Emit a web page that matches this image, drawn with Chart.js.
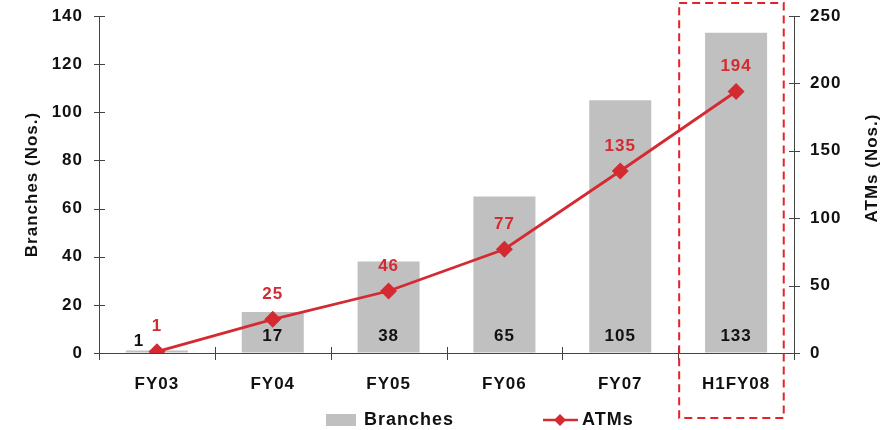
<!DOCTYPE html>
<html><head><meta charset="utf-8">
<script src="https://cdn.jsdelivr.net/npm/chart.js@4/dist/chart.umd.min.js"></script>
<style>html,body{margin:0;padding:0;background:#fff}#w{width:888px;height:430px}</style>
</head><body><div id="w"><canvas id="c"></canvas></div>
<script>
const categories = ['FY03','FY04','FY05','FY06','FY07','H1FY08'];
const branches = [1,17,38,65,105,133];
const atms = [1,25,46,77,135,194];
const branchTicks = [0,20,40,60,80,100,120,140];
const atmTicks = [0,50,100,150,200,250];

const FONT = '"Liberation Sans", Arial, sans-serif';
const RED = '#d42a31';
const GREY = '#c0c0c0';
const SP = '1px';

const overlay = {
  id: 'overlay',
  beforeLayout(chart) { chart.ctx.letterSpacing = SP; },
  beforeDraw(chart) { chart.ctx.letterSpacing = SP; },
  afterDatasetsDraw(chart) {
    const ctx = chart.ctx, xs = chart.scales.x, yl = chart.scales.y, yr = chart.scales.y2;
    ctx.save();
    ctx.letterSpacing = SP;
    // axis cross ticks
    ctx.strokeStyle = '#444'; ctx.lineWidth = 1;
    yl.ticks.forEach(t => { const p = Math.round(yl.getPixelForValue(t.value)) + 0.5;
      ctx.beginPath(); ctx.moveTo(yl.right - 5, p); ctx.lineTo(yl.right + 6, p); ctx.stroke(); });
    yr.ticks.forEach(t => { const p = Math.round(yr.getPixelForValue(t.value)) + 0.5;
      ctx.beginPath(); ctx.moveTo(yr.left - 5, p); ctx.lineTo(yr.left + 6, p); ctx.stroke(); });
    const cw = xs.width / categories.length;
    for (let i = 0; i <= categories.length; i++) {
      const px = Math.round(xs.left + i * cw) + 0.5;
      ctx.beginPath(); ctx.moveTo(px, xs.top - 6); ctx.lineTo(px, xs.top + 7); ctx.stroke();
    }
    // bar labels
    ctx.font = 'bold 17px ' + FONT; ctx.textAlign = 'center'; ctx.textBaseline = 'middle';
    ctx.fillStyle = '#111';
    const barMeta = chart.getDatasetMeta(0);
    barMeta.data.forEach((b, i) => {
      const v = branches[i];
      if (i === 0) ctx.fillText(String(v), b.x - 18, yl.getPixelForValue(0) - 12);
      else ctx.fillText(String(v), b.x, yl.getPixelForValue(0) - 17);
    });
    // line labels
    ctx.fillStyle = RED;
    const lineMeta = chart.getDatasetMeta(1);
    lineMeta.data.forEach((p, i) => ctx.fillText(String(atms[i]), p.x, p.y - 25));
    // right axis title (reads bottom-to-top)
    ctx.save();
    ctx.fillStyle = '#111';
    ctx.translate(872, 168); ctx.rotate(-Math.PI / 2);
    ctx.fillText('ATMs (Nos.)', 0, 0);
    ctx.restore();
    // highlight box
    const cx = xs.getPixelForValue(categories.length - 1);
    ctx.strokeStyle = '#e52228'; ctx.lineWidth = 2; ctx.setLineDash([8, 5]);
    ctx.strokeRect(cx - cw / 2 + 1, 3, cw * 0.92 - 2, 415);
    ctx.setLineDash([]);
    // legend
    ctx.fillStyle = GREY; ctx.fillRect(326, 414, 30, 12);
    ctx.fillStyle = '#111'; ctx.textAlign = 'left'; ctx.font = 'bold 18px ' + FONT;
    ctx.fillText(chart.data.datasets[0].label, 364, 420);
    ctx.strokeStyle = RED; ctx.lineWidth = 2.5;
    ctx.beginPath(); ctx.moveTo(543, 420); ctx.lineTo(578, 420); ctx.stroke();
    ctx.fillStyle = RED; ctx.beginPath();
    ctx.moveTo(560, 414); ctx.lineTo(566, 420); ctx.lineTo(560, 426); ctx.lineTo(554, 420); ctx.closePath(); ctx.fill();
    ctx.fillStyle = '#111'; ctx.fillText(chart.data.datasets[1].label, 582, 420);
    ctx.restore();
  }
};

new Chart(document.getElementById('c'), {
  data: {
    labels: categories,
    datasets: [
      { type: 'bar', label: 'Branches', data: branches, backgroundColor: GREY, yAxisID: 'y',
        barPercentage: 0.9, categoryPercentage: 0.595, order: 2 },
      { type: 'line', label: 'ATMs', data: atms, borderColor: RED, backgroundColor: RED, yAxisID: 'y2',
        borderWidth: 2.8, pointStyle: 'rectRot', pointRadius: 6.5, pointHoverRadius: 6.5, tension: 0, order: 1 }
    ]
  },
  plugins: [overlay],
  options: {
    responsive: true, maintainAspectRatio: false, animation: false,
    layout: { padding: { top: 16, left: 0, right: 0, bottom: 0 } },
    plugins: { legend: { display: false }, tooltip: { enabled: false } },
    scales: {
      x: {
        offset: true,
        grid: { offset: true, drawOnChartArea: false, drawTicks: false },
        border: { color: '#444', width: 1 },
        ticks: { color: '#111', font: { family: FONT, size: 17, weight: 'bold' }, padding: 21 },
        afterFit(s) { s.height = 77; s.paddingLeft = 0; s.paddingRight = 0; }
      },
      y: {
        position: 'left', min: 0, max: 140,
        afterBuildTicks(s) { s.ticks = branchTicks.map(v => ({ value: v })); },
        grid: { drawOnChartArea: false, drawTicks: false },
        border: { color: '#444', width: 1 },
        ticks: { color: '#111', font: { family: FONT, size: 17, weight: 'bold' }, padding: 16 },
        title: { display: true, text: 'Branches (Nos.)', color: '#111', font: { family: FONT, size: 17, weight: 'bold' }, padding: { top: 22, bottom: 0 } },
        afterFit(s) { s.width = 99; s.paddingTop = 0; s.paddingBottom = 0; }
      },
      y2: {
        position: 'right', min: 0, max: 250,
        afterBuildTicks(s) { s.ticks = atmTicks.map(v => ({ value: v })); },
        grid: { drawOnChartArea: false, drawTicks: false },
        border: { color: '#444', width: 1 },
        ticks: { color: '#111', font: { family: FONT, size: 17, weight: 'bold' }, padding: 16 },
        afterFit(s) { s.width = 94; s.paddingTop = 0; s.paddingBottom = 0; }
      }
    }
  }
});
</script></body></html>
